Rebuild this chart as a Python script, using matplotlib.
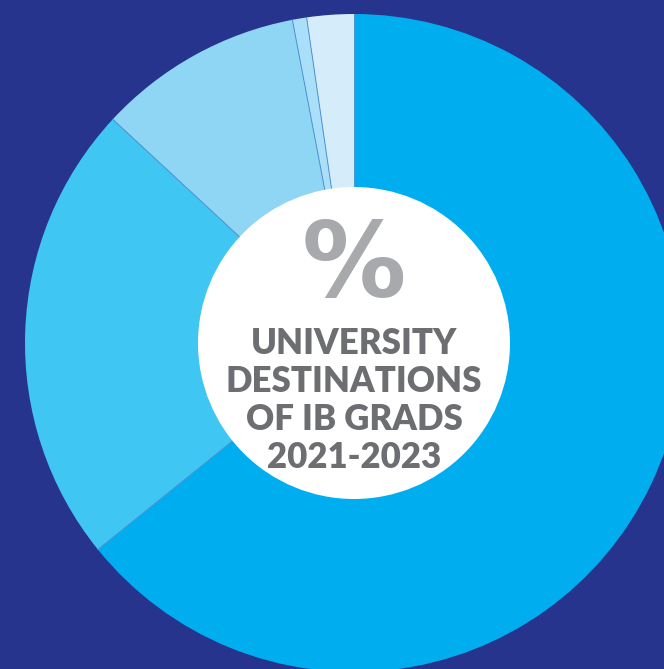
#----------------------------------------------------------------------------------------------------
# Make imports
#----------------------------------------------------------------------------------------------------
import numpy as np
import matplotlib.pyplot as plt
from matplotlib.patches import Circle

#----------------------------------------------------------------------------------------------------
# Data (share of IB grads by destination, clockwise from the top)
#----------------------------------------------------------------------------------------------------
destinations = ["Group A", "Group B", "Group C", "Group D", "Group E"]
shares = [64.2, 22.7, 10.1, 0.7, 2.3]
slice_colors = ["#00AEEF", "#3FC6F2", "#8FD6F5", "#A9DFF8", "#D5ECFA"]
title_lines = ["UNIVERSITY", "DESTINATIONS", "OF IB GRADS", "2021-2023"]

#----------------------------------------------------------------------------------------------------
# Figure in pixel coordinates
#----------------------------------------------------------------------------------------------------
W, H = 664, 669
bg = "#27348E"
fig = plt.figure(figsize=(W / 100, H / 100), dpi=100)
fig.patch.set_facecolor(bg)
ax = fig.add_axes([0, 0, 1, 1])
ax.set_facecolor(bg)

cx, cy = 354, H - 343
r_out, r_in = 329, 156
ax.pie(shares, colors=slice_colors, startangle=90, counterclock=False,
       center=(cx, cy), radius=r_out, wedgeprops=dict(linewidth=0))

# thin separators between slices (no outline on the outer rim)
bounds = 90 - 360 * np.cumsum([0] + shares[:-1]) / sum(shares)
for a in np.deg2rad(bounds):
    ax.plot([cx, cx + r_out * np.cos(a)], [cy, cy + r_out * np.sin(a)],
            color="#4F95D6", linewidth=0.7, zorder=3)

ax.add_patch(Circle((cx, cy), r_in, facecolor="white", edgecolor="none", zorder=5))

ax.text(cx, H - 268, "%", ha="center", va="center", fontsize=75, fontweight="bold",
        family="DejaVu Sans", color="#A7A9AC", zorder=6)

for i, line in enumerate(title_lines):
    ax.text(cx, H - (344 + i * 37.7), line, ha="center", va="center", fontsize=25,
            fontweight="heavy", family="Lato", color="#6D6E71", zorder=6)

ax.set_xlim(0, W)
ax.set_ylim(0, H)
ax.set_aspect("equal")
ax.axis("off")

fig.savefig("out.png", dpi=100, facecolor=fig.get_facecolor())
